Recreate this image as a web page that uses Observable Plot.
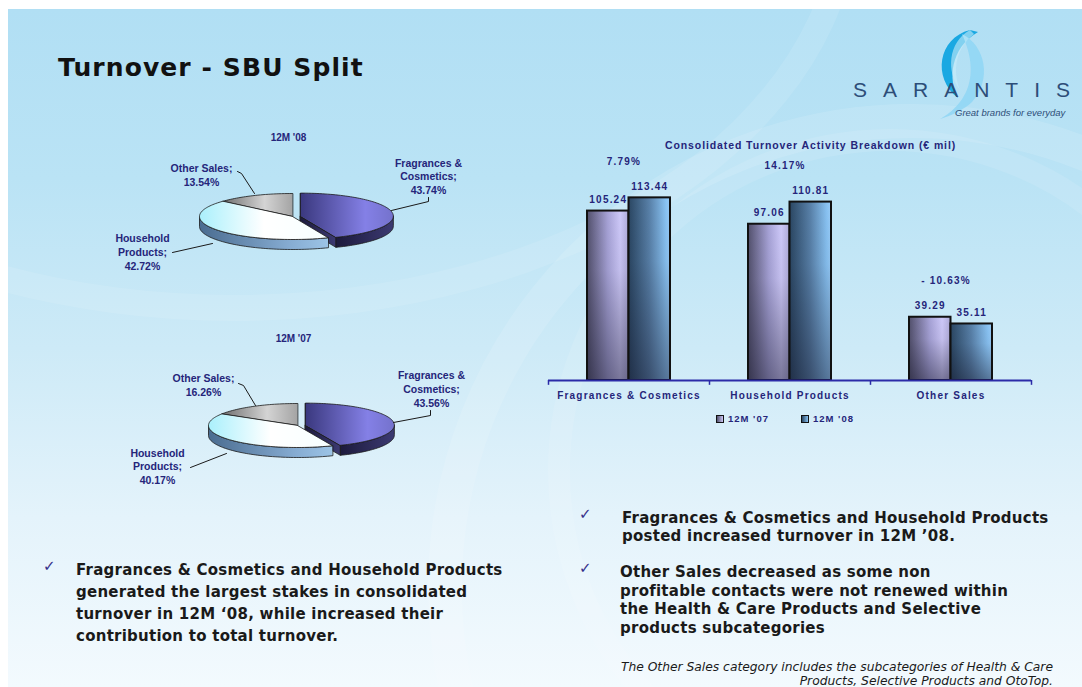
<!DOCTYPE html>
<html>
<head>
<meta charset="utf-8">
<script src="https://cdn.jsdelivr.net/npm/d3@7"></script>
<script src="https://cdn.jsdelivr.net/npm/@observablehq/plot@0.6"></script>
<style>
  html, body { margin: 0; padding: 0; background: #fff; }
  body { width: 1082px; height: 687px; position: relative; overflow: hidden; }
  .slide { position: absolute; left: 8px; top: 9px; width: 1074px; height: 678px; overflow: hidden;
    background: linear-gradient(180deg, #b1dff4 0%, #bae3f5 25%, #cdeaf7 50%, #e4f3fb 75%, #f3fafe 100%); }
  .arc { position: absolute; border-radius: 50%; pointer-events: none; }
  .abs { position: absolute; white-space: nowrap; }
  .title { left: 58px; top: 53px; font: bold 25px "DejaVu Sans", Verdana, sans-serif; color: #111; letter-spacing: 1.1px; }
  .bullet { font: bold 15px "DejaVu Sans", Verdana, sans-serif; color: #1a1a1a; letter-spacing: 0.25px; }
  .check { font: 15px "DejaVu Sans", sans-serif; color: #35308a; }
  .foot { font: oblique 12.3px "DejaVu Sans", Verdana, sans-serif; color: #1a1a1a; text-align: right; line-height: 14px; }
  .bartitle { font: bold 10.5px "Liberation Sans", Arial, sans-serif; color: #25257a; letter-spacing: 0.9px; }
  .legend { font: bold 9.5px "Liberation Sans", Arial, sans-serif; color: #25257a; letter-spacing: 1px; }
  .sw { position: absolute; width: 6px; height: 6px; border: 1.3px solid #111; }
  .logo { font: 21px "Liberation Sans", Arial, sans-serif; color: #2d4d78; letter-spacing: 16px; }
  .tag { font: italic 9.5px "Liberation Sans", Arial, sans-serif; color: #2d4d78; }
</style>
</head>
<body>
<svg width="0" height="0" style="position:absolute">
  <defs>
    <linearGradient id="fcTop" x1="0" y1="0" x2="1" y2="0">
      <stop offset="0" stop-color="#3a387e"/><stop offset="0.7" stop-color="#8480e6"/><stop offset="1" stop-color="#7472cc"/>
    </linearGradient>
    <linearGradient id="fcSide" x1="0" y1="0" x2="1" y2="0">
      <stop offset="0" stop-color="#1c1a3c"/><stop offset="1" stop-color="#3c3a72"/>
    </linearGradient>
    <linearGradient id="hhTop" x1="0" y1="0" x2="1" y2="0">
      <stop offset="0" stop-color="#aaf0fc"/><stop offset="0.5" stop-color="#ffffff"/><stop offset="1" stop-color="#f6ffff"/>
    </linearGradient>
    <linearGradient id="hhSide" x1="0" y1="0" x2="1" y2="0">
      <stop offset="0" stop-color="#4a6c90"/><stop offset="0.7" stop-color="#86acd2"/><stop offset="1" stop-color="#9cc4e6"/>
    </linearGradient>
    <linearGradient id="osTop" x1="0" y1="0" x2="1" y2="0">
      <stop offset="0" stop-color="#6e6e6e"/><stop offset="0.6" stop-color="#d4d4d4"/><stop offset="1" stop-color="#a4a4a4"/>
    </linearGradient>
    <linearGradient id="osSide" x1="0" y1="0" x2="1" y2="0">
      <stop offset="0" stop-color="#4a4a4a"/><stop offset="1" stop-color="#777777"/>
    </linearGradient>
    <linearGradient id="bar07" x1="0" y1="0" x2="1" y2="0">
      <stop offset="0" stop-color="#52506c"/><stop offset="0.5" stop-color="#a6a2d6"/><stop offset="0.8" stop-color="#cdc8f8"/><stop offset="1" stop-color="#aeaad8"/>
    </linearGradient>
    <linearGradient id="bar08" x1="0" y1="0" x2="1" y2="0">
      <stop offset="0" stop-color="#2a4662"/><stop offset="0.5" stop-color="#5880a8"/><stop offset="0.9" stop-color="#88c2f2"/><stop offset="1" stop-color="#98ccf8"/>
    </linearGradient>
    <linearGradient id="shade" x1="0" y1="0" x2="0" y2="1">
      <stop offset="0" stop-color="#141428" stop-opacity="0"/><stop offset="0.35" stop-color="#141428" stop-opacity="0.05"/><stop offset="1" stop-color="#141428" stop-opacity="0.45"/>
    </linearGradient>
  </defs>
</svg>

<div class="slide">
  <div class="arc" style="left:420px; top:95px; width:900px; height:900px; border:34px solid rgba(255,255,255,0.12);"></div>
  <div class="arc" style="left:540px; top:120px; width:640px; height:640px; border:22px solid rgba(255,255,255,0.10);"></div>
  <div class="arc" style="left:-400px; top:-520px; width:1200px; height:780px; border:26px solid rgba(255,255,255,0.10);"></div>
</div>

<div class="abs title">Turnover - SBU Split</div>

<!-- logo -->
<svg class="abs" style="left:900px; top:20px" width="120" height="100">
  <path d="M 70,10 C 38,18 32,58 58,78 C 48,60 50,28 78,12 Z" fill="#1aa8e2"/>
  <path d="M 62,14 C 86,26 92,60 72,82 C 64,90 50,96 40,99 C 60,88 84,62 62,14 Z" fill="#8fd6f4" opacity="0.85"/>
  <path d="M 70,10 C 48,22 46,52 60,70 C 52,50 56,28 74,14 Z" fill="#c8ecfa" opacity="0.6"/>
</svg>
<div class="abs logo" style="left:853px; top:78px;">SARANTI<span style="letter-spacing:0">S</span></div>
<div class="abs tag" style="left:955px; top:107px;">Great brands for everyday</div>

<div id="pies" class="abs" style="left:0; top:120px;"></div>

<div class="abs bartitle" style="left:665px; top:139px;">Consolidated Turnover Activity Breakdown (€ mil)</div>
<div id="bars" class="abs" style="left:540px; top:130px;"></div>
<div class="sw" style="left:716px; top:415px; background:linear-gradient(90deg,#52506c,#cdc8f8);"></div>
<div class="abs legend" style="left:728px; top:413px;">12M '07</div>
<div class="sw" style="left:801px; top:415px; background:linear-gradient(90deg,#2a4662,#88c2f2);"></div>
<div class="abs legend" style="left:813px; top:413px;">12M '08</div>

<div class="abs check" style="left:43px; top:557px;">✓</div>
<div class="abs bullet" style="left:76px; top:559px; line-height:22px;">Fragrances &amp; Cosmetics and Household Products<br>generated the largest stakes in consolidated<br>turnover in 12M ‘08, while increased their<br>contribution to total turnover.</div>

<div class="abs check" style="left:579px; top:505px;">✓</div>
<div class="abs bullet" style="left:622px; top:509px; line-height:18px;">Fragrances &amp; Cosmetics and Household Products<br>posted increased turnover in 12M ’08.</div>
<div class="abs check" style="left:579px; top:559px;">✓</div>
<div class="abs bullet" style="left:620px; top:563px; line-height:18.5px;">Other Sales decreased as some non<br>profitable contacts were not renewed within<br>the Health &amp; Care Products and Selective<br>products subcategories</div>

<div class="abs foot" style="right:29px; top:660px;">The Other Sales category includes the subcategories of Health &amp; Care<br>Products, Selective Products and OtoTop.</div>

<script>
// ---- data ----
const categories = ["Fragrances & Cosmetics", "Household Products", "Other Sales"];
const pieNames = ["Fragrances &\nCosmetics;", "Household\nProducts;", "Other Sales;"];
const periods = ["12M '07", "12M '08"];
const share07 = [43.56, 40.17, 16.26];
const share08 = [43.74, 42.72, 13.54];
const turnover07 = [105.24, 97.06, 39.29];
const turnover08 = [113.44, 110.81, 35.11];
const changePct = [7.79, 14.17, -10.63];

// ---- pie layout (geometry / label placement, not data) ----
const pieLayout = [
  { period: periods[1], shares: share08, cx: 292, cy: 216, rx: 93, ry: 23, depth: 10, explode: 8, head: [288, 137],
    labels: [[428, 175.5], [142, 251], [201, 174]],
    leaders: [[[428, 197], [428, 201], [391, 210]], [[172, 252], [212, 243]], [[237, 171], [241, 173], [254, 193]]] },
  { period: periods[0], shares: share07, cx: 297, cy: 425, rx: 89, ry: 22, depth: 10, explode: 8, head: [293, 338],
    labels: [[431, 388], [157, 465.5], [203, 384]],
    leaders: [[[430, 410], [430, 415], [393, 422]], [[190, 467], [226, 453]], [[238, 383], [243, 385], [255, 405]]] }
];
const topFill = ["url(#fcTop)", "url(#hhTop)", "url(#osTop)"];
const sideFill = ["url(#fcSide)", "url(#hhSide)", "url(#osSide)"];
const ink = "#25257a";

function pieShapes(cfg) {
  const arcs = d3.pie().sort(null)(cfg.shares);
  return arcs.map((a, i) => {
    const e = i === 0 ? cfg.explode : 0;
    const mid = (a.startAngle + a.endAngle) / 2;
    const ox = cfg.cx + e * Math.sin(mid), oy = cfg.cy - e * (cfg.ry / cfg.rx) * Math.cos(mid);
    const P = (t, z) => ({x: ox + cfg.rx * Math.sin(t), y: oy - cfg.ry * Math.cos(t) + z});
    const arcPts = (t0, t1, z) => {
      const n = Math.max(2, Math.ceil((t1 - t0) / 0.03));
      return d3.range(n + 1).map(k => P(t0 + (t1 - t0) * k / n, z));
    };
    const top = [{x: ox, y: oy}, ...arcPts(a.startAngle, a.endAngle, 0)];
    const s0 = Math.max(a.startAngle, Math.PI / 2), s1 = Math.min(a.endAngle, 3 * Math.PI / 2);
    const side = s1 > s0 ? [...arcPts(s0, s1, 0), ...arcPts(s0, s1, cfg.depth).reverse()] : null;
    const walls = e ? [a.startAngle, a.endAngle].map(t =>
      [{x: ox, y: oy}, P(t, 0), P(t, cfg.depth), {x: ox, y: oy + cfg.depth}]) : [];
    return {i, top, side, walls};
  });
}

const pieMarks = [];
for (const cfg of pieLayout) {
  const shapes = pieShapes(cfg);
  const order = [2, 1, 0];
  const poly = (pts, fill) => Plot.line(pts, {x: "x", y: "y", curve: "linear-closed", fill, stroke: "#1a1a1a", strokeWidth: 0.8, strokeLinejoin: "round"});
  for (const k of order) for (const w of shapes[k].walls) pieMarks.push(poly(w, sideFill[k]));
  for (const k of order) if (shapes[k].side) pieMarks.push(poly(shapes[k].side, sideFill[k]));
  for (const k of order) pieMarks.push(poly(shapes[k].top, topFill[k]));
  cfg.leaders.forEach(l => pieMarks.push(Plot.line(l.map(([x, y]) => ({x, y})), {x: "x", y: "y", stroke: "#1a1a1a", strokeWidth: 1})));
  const lab = categories.map((c, i) => ({x: cfg.labels[i][0], y: cfg.labels[i][1], text: `${pieNames[i]}\n${cfg.shares[i].toFixed(2)}%`}));
  pieMarks.push(Plot.text(lab, {x: "x", y: "y", text: "text", fill: ink, fontSize: 10.5, fontWeight: "bold", lineHeight: 1.3, lineAnchor: "middle", textAnchor: "middle", style: "letter-spacing:1.5px"}));
  pieMarks.push(Plot.text([cfg.period], {x: () => cfg.head[0], y: () => cfg.head[1], text: d => d, fill: ink, fontSize: 10, fontWeight: "bold", style: "letter-spacing:1px"}));
}

const pies = Plot.plot({
  width: 540, height: 380, margin: 0,
  x: {type: "linear", domain: [0, 540], range: [0, 540], axis: null},
  y: {type: "linear", domain: [120, 500], range: [0, 380], axis: null},
  style: {background: "transparent", overflow: "visible", fontFamily: "'Liberation Sans', Arial, sans-serif"},
  marks: pieMarks
});
document.getElementById("pies").appendChild(pies);

// ---- bar chart ----
const barData = categories.flatMap((c, i) => [
  {category: c, period: periods[0], value: turnover07[i]},
  {category: c, period: periods[1], value: turnover08[i]}
]);
const d07 = barData.filter(d => d.period === periods[0]);
const d08 = barData.filter(d => d.period === periods[1]);
const changeData = categories.map((c, i) => ({
  category: c, top: Math.max(turnover07[i], turnover08[i]),
  label: changePct[i] < 0 ? `- ${Math.abs(changePct[i]).toFixed(2)}%` : `${changePct[i].toFixed(2)}%`
}));

const wide = 80.5, narrow = 39;
const bars = Plot.plot({
  width: 500, height: 300, marginLeft: 8, marginRight: 9, marginTop: 8.5, marginBottom: 50,
  x: {domain: categories, padding: 0, tickSize: 0, tickPadding: 11, label: null},
  y: {domain: [0, 150], axis: null},
  style: {background: "transparent", overflow: "visible", fontFamily: "'Liberation Sans', Arial, sans-serif",
          fontWeight: "bold", fontSize: "10px", color: ink, letterSpacing: "1.2px"},
  marks: [
    Plot.barY(d07, {x: "category", y: "value", insetLeft: narrow, insetRight: wide, fill: "url(#bar07)"}),
    Plot.barY(d07, {x: "category", y: "value", insetLeft: narrow, insetRight: wide, fill: "url(#shade)", stroke: "#111", strokeWidth: 2}),
    Plot.barY(d08, {x: "category", y: "value", insetLeft: wide, insetRight: narrow, fill: "url(#bar08)"}),
    Plot.barY(d08, {x: "category", y: "value", insetLeft: wide, insetRight: narrow, fill: "url(#shade)", stroke: "#111", strokeWidth: 2}),
    Plot.ruleY([0], {stroke: "#2b2ba8", strokeWidth: 2}),
    Plot.ruleX(categories, {x: d => d, dx: -wide, y1: 0, y2: -3, stroke: "#2b2ba8", strokeWidth: 1.5}),
    Plot.ruleX(categories.slice(-1), {x: d => d, dx: wide, y1: 0, y2: -3, stroke: "#2b2ba8", strokeWidth: 1.5}),
    Plot.text(d07, {x: "category", y: "value", text: d => d.value.toFixed(2), dx: -(wide - narrow) / 2, dy: -11, fill: ink, fontSize: 10}),
    Plot.text(d08, {x: "category", y: "value", text: d => d.value.toFixed(2), dx: (wide - narrow) / 2, dy: -11, fill: ink, fontSize: 10}),
    Plot.text(changeData, {x: "category", y: "top", text: "label", dx: -5, dy: -36, fill: ink, fontSize: 10})
  ]
});
document.getElementById("bars").appendChild(bars);
</script>
</body>
</html>
